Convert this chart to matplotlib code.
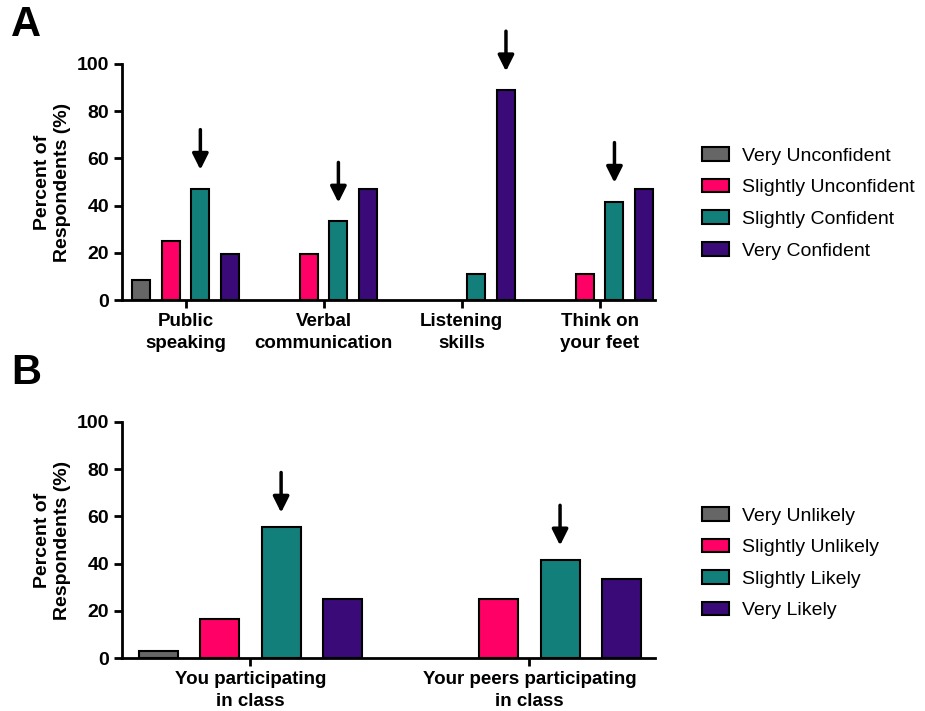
import matplotlib.pyplot as plt
import numpy as np

plt.rcParams["font.family"] = ["Liberation Sans", "DejaVu Sans"]

# Panel A data
skills = ["Public\nspeaking", "Verbal\ncommunication", "Listening\nskills", "Think on\nyour feet"]
conf_levels = ["Very Unconfident", "Slightly Unconfident", "Slightly Confident", "Very Confident"]
very_unconf = [8.3, 0, 0, 0]
slightly_unconf = [25.0, 19.4, 0, 11.1]
slightly_conf = [47.2, 33.3, 11.1, 41.7]
very_conf = [19.4, 47.2, 88.9, 47.2]
# bar (series index) marked with an arrow in each group
arrows_a = [2, 2, 3, 2]

# Panel B data
situations = ["You participating\nin class", "Your peers participating\nin class"]
like_levels = ["Very Unlikely", "Slightly Unlikely", "Slightly Likely", "Very Likely"]
very_unlikely = [2.8, 0]
slightly_unlikely = [16.7, 25.0]
slightly_likely = [55.6, 41.7]
very_likely = [25.0, 33.3]
arrows_b = [2, 2]

COLORS = ["#666666", "#FF0066", "#137F7A", "#3A0A78"]


def draw_panel(ax, cats, series, labels, arrows, pitch, width, xlim, arrow_gap, legend_y, fig):
    x = np.arange(len(cats))
    offsets = (np.arange(len(series)) - (len(series) - 1) / 2) * pitch
    for vals, off, color, lab in zip(series, offsets, COLORS, labels):
        # empty categories draw nothing
        shown = np.where(np.array(vals) > 0, vals, np.nan)
        ax.bar(x + off, shown, width=width, color=color, edgecolor="black",
               linewidth=1.5, label=lab, zorder=3)
    for i, s in enumerate(arrows):
        top = series[s][i]
        ax.annotate("", xy=(x[i] + offsets[s], top + arrow_gap),
                    xytext=(x[i] + offsets[s], top + arrow_gap + 17),
                    arrowprops=dict(arrowstyle="-|>", color="black", lw=2.5,
                                    mutation_scale=24, shrinkA=0, shrinkB=0))
    ax.set_xlim(*xlim)
    ax.set_ylim(0, 100)
    ax.set_yticks([0, 20, 40, 60, 80, 100])
    ax.set_xticks(x)
    ax.set_xticklabels(cats, fontsize=13.5, fontweight="bold", linespacing=1.4)
    for t in ax.get_yticklabels():
        t.set_fontsize(14)
        t.set_fontweight("bold")
    ax.tick_params(axis="both", direction="out", width=2, length=6)
    ax.spines["top"].set_visible(False)
    ax.spines["right"].set_visible(False)
    ax.spines["left"].set_linewidth(2)
    ax.spines["bottom"].set_linewidth(2)
    ax.set_ylabel("Percent of\nRespondents (%)", fontsize=14, fontweight="bold",
                  labelpad=4, linespacing=1.25)
    handles, labs = ax.get_legend_handles_labels()
    fig.legend(handles, labs, loc="center left", bbox_to_anchor=(0.74, legend_y),
               frameon=False, fontsize=14, handlelength=1.4, handleheight=0.7,
               labelspacing=0.72, handletextpad=0.65)


fig = plt.figure(figsize=(9.25, 7.11), dpi=100)
ax_a = fig.add_axes([0.132, 0.578, 0.576, 0.332])
ax_b = fig.add_axes([0.132, 0.0745, 0.576, 0.332])

draw_panel(ax_a, skills, [very_unconf, slightly_unconf, slightly_conf, very_conf],
           conf_levels, arrows_a, 0.214, 0.13, (-0.46, 3.4), 8, 0.714, fig)
draw_panel(ax_b, situations, [very_unlikely, slightly_unlikely, slightly_likely, very_likely],
           like_levels, arrows_b, 0.22, 0.14, (-0.46, 1.45), 6, 0.208, fig)

fig.text(0.012, 0.965, "A", fontsize=30, fontweight="bold", va="center")
fig.text(0.012, 0.475, "B", fontsize=30, fontweight="bold", va="center")

fig.savefig("out.png", dpi=100)
